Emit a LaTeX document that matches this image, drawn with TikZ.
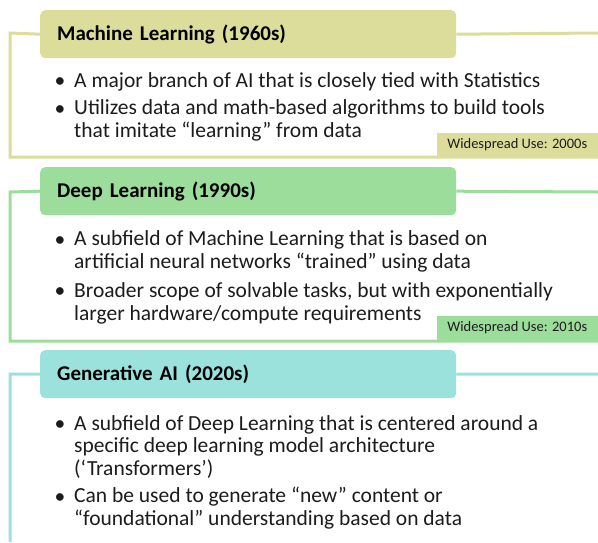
\documentclass[tikz,border=0pt]{standalone}
\usepackage{fontspec}
\setmainfont{Carlito}
\definecolor{mlcol}{RGB}{221,221,155}
\definecolor{dlcol}{RGB}{156,221,156}
\definecolor{gacol}{RGB}{156,226,220}
\definecolor{bodytext}{RGB}{28,28,28}
\begin{document}
\begin{tikzpicture}[x=1pt,y=-1pt,
  header/.style={rectangle, rounded corners=5pt, fill=#1, anchor=north west,
    minimum width=416pt, minimum height=48pt, inner xsep=17pt,
    text width=382pt, align=left, font=\fontsize{21}{25}\selectfont\bfseries},
  frame/.style={draw=#1, line width=3pt},
  tag/.style={rectangle, fill=#1, anchor=south east, minimum width=161pt,
    minimum height=24pt, inner sep=0pt, text=bodytext,
    font=\fontsize{14.5}{17}\selectfont},
  bullet/.style={anchor=base, inner sep=0pt, text=bodytext,
    font=\fontsize{21.5}{22.5}\selectfont},
  % multi-line body nodes are placed by the baseline of their last line
  body/.style={anchor=base west, inner sep=0pt, align=left, text=bodytext,
    font=\fontsize{21.5}{22.5}\selectfont}]
\useasboundingbox (0,0) rectangle (598,542);
\fill[white] (0,0) rectangle (598,542);

% ---- Machine Learning ----
\coordinate (ml-tl) at (10,33);
\coordinate (ml-bl) at (10,157);
\coordinate (ml-br) at (598,157);
\coordinate (ml-tr) at (598,33);
\node[header=mlcol] (ml) at (40,10) {Machine Learning (1960s)};
\draw[frame=mlcol] (ml.west) -- (ml-tl) -- (ml-bl) -- (ml-br);
\draw[frame=mlcol] (ml.east) -- (ml-tr);
\node[tag=mlcol] (mltag) at (598,157) {Widespread Use: 2000s};
\node[bullet] (mlb1) at (60,87) {•};
\node[body] (mlt1) at (74,87) {A major branch of AI that is closely tied with Statistics};
\node[bullet] (mlb2) at (60,115) {•};
\node[body] (mlt2) at (74,137) {Utilizes data and math-based algorithms to build tools\\that imitate “learning” from data};

% ---- Deep Learning ----
\coordinate (dl-tl) at (10,192);
\coordinate (dl-bl) at (10,341);
\coordinate (dl-br) at (598,341);
\coordinate (dl-tr) at (598,192);
\node[header=dlcol] (dl) at (40,167) {Deep Learning (1990s)};
\draw[frame=dlcol] (dl.west) -- (dl-tl) -- (dl-bl) -- (dl-br);
\draw[frame=dlcol] (dl.east) -- (dl-tr);
\node[tag=dlcol] (dltag) at (598,340) {Widespread Use: 2010s};
\node[bullet] (dlb1) at (60,246) {•};
\node[body] (dlt1) at (74,268) {A subfield of Machine Learning that is based on\\artificial neural networks “trained” using data};
\node[bullet] (dlb2) at (60,297) {•};
\node[body] (dlt2) at (74,320) {Broader scope of solvable tasks, but with exponentially\\larger hardware/compute requirements};

% ---- Generative AI ----
\coordinate (ga-tl) at (10,374);
\coordinate (ga-bl) at (10,542);
\coordinate (ga-tr) at (598,374);
\node[header=gacol] (ga) at (40,350) {Generative AI (2020s)};
\draw[frame=gacol] (ga.west) -- (ga-tl) -- (ga-bl);
\draw[frame=gacol] (ga.east) -- (ga-tr);
\node[bullet] (gab1) at (60,430) {•};
\node[body] (gat1) at (74,475) {A subfield of Deep Learning that is centered around a\\specific deep learning model architecture\\(‘Transformers’)};
\node[bullet] (gab2) at (60,503) {•};
\node[body] (gat2) at (74,525) {Can be used to generate “new” content or\\“foundational” understanding based on data};
\end{tikzpicture}
\end{document}
